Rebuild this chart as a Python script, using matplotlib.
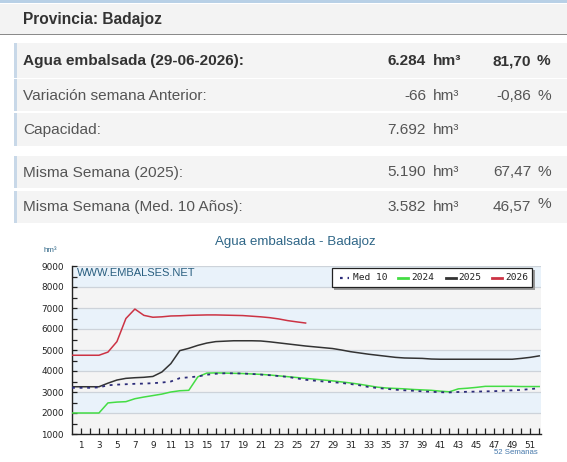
import matplotlib
matplotlib.use("Agg")
import matplotlib.pyplot as plt
from matplotlib.patches import Rectangle

W, H = 567, 462

# ---------------- data ----------------
weeks = list(range(0, 53))
weeks_2026 = list(range(0, 27))

med10 = [3200, 3200, 3200, 3220, 3320, 3350, 3370, 3390, 3400, 3420, 3450, 3500, 3660,
         3700, 3740, 3820, 3870, 3890, 3890, 3880, 3860, 3830, 3800, 3760, 3720, 3650,
         3582, 3540, 3500, 3470, 3430, 3380, 3320, 3240, 3190, 3150, 3110, 3080, 3060,
         3030, 3010, 2990, 2980, 3000, 3010, 3020, 3030, 3040, 3060, 3080, 3100, 3140, 3180]
y2024 = [2000, 2000, 2000, 2000, 2480, 2520, 2540, 2680, 2760, 2830, 2900, 3000, 3060,
         3080, 3720, 3900, 3910, 3900, 3890, 3880, 3860, 3840, 3810, 3770, 3730, 3690,
         3650, 3610, 3570, 3530, 3480, 3430, 3370, 3300, 3230, 3190, 3170, 3150, 3120,
         3100, 3080, 3040, 3010, 3150, 3180, 3220, 3270, 3270, 3270, 3270, 3260, 3260, 3260]
y2025 = [3250, 3250, 3250, 3250, 3420, 3570, 3650, 3680, 3700, 3740, 3950, 4350, 4970,
         5080, 5220, 5330, 5400, 5420, 5440, 5440, 5440, 5430, 5390, 5340, 5290, 5240,
         5190, 5150, 5110, 5070, 5000, 4920, 4860, 4800, 4750, 4700, 4650, 4620, 4610,
         4600, 4570, 4560, 4560, 4560, 4560, 4560, 4560, 4560, 4560, 4560, 4600, 4650, 4720]
y2026 = [4750, 4750, 4750, 4750, 4900, 5400, 6500, 6950, 6650, 6560, 6580, 6620, 6630,
         6650, 6660, 6670, 6670, 6660, 6650, 6640, 6610, 6580, 6540, 6480, 6400, 6340, 6284]

series_names = ["Med 10", "2024", "2025", "2026"]
yticks = [1000, 2000, 3000, 4000, 5000, 6000, 7000, 8000, 9000]
xtick_labels = [str(w) for w in range(1, 52, 2)]

row_labels = ["Agua embalsada (29-06-2026):", "Variación semana Anterior:", "Capacidad:",
              "Misma Semana (2025):", "Misma Semana (Med. 10 Años):"]
row_values = ["6.284", "-66", "7.692", "5.190", "3.582"]
row_pcts = ["81,70", "-0,86", "", "67,47", "46,57"]

# ---------------- figure ----------------
fig = plt.figure(figsize=(W / 100, H / 100), dpi=100)
fig.patch.set_facecolor("white")


def fx(x):
    return x / W


def fy(y):
    return 1 - y / H


def rect(x0, y0, x1, y1, color, z=0):
    fig.patches.append(Rectangle((fx(x0), fy(y1)), (x1 - x0) / W, (y1 - y0) / H,
                                 transform=fig.transFigure, facecolor=color,
                                 edgecolor="none", zorder=z))


# top border / header
rect(0, 0, W, 3, "#b8d0e6")
rect(0, 4, W, 34, "#f3f3f3")
rect(0, 34, W, 35.2, "#8a8a8a")
fig.text(fx(23), fy(19.5), "Provincia: Badajoz", fontsize=11.2, fontweight="bold",
         color="#333333", family="Liberation Sans", va="center", ha="left")

FS = 11.1
row_y = [(43, 78), (79, 111), (113, 146), (156, 188), (191, 223)]
for i, (a, b) in enumerate(row_y):
    rect(14, a, W, b, "#f4f4f4")
    rect(14, a, 17, b, "#c8d8e8")
    cy = (a + b) / 2 + 0.5
    bold = (i == 0)
    wt = "bold" if bold else "normal"
    col = "#333333" if bold else "#555555"
    fig.text(fx(23), fy(cy), row_labels[i], fontsize=FS, fontweight=wt, color=col,
             family="Liberation Sans", va="center", ha="left")
    fig.text(fx(426), fy(cy), row_values[i], fontsize=FS, fontweight=wt, color=col,
             family="Liberation Sans", va="center", ha="right")
    fig.text(fx(433), fy(cy), "hm³", fontsize=FS, fontweight=wt, color=col,
             family="Liberation Sans", va="center", ha="left")
    if row_pcts[i]:
        fig.text(fx(531), fy(cy), row_pcts[i], fontsize=FS, fontweight=wt, color=col,
                 family="Liberation Sans", va="center", ha="right")
        py = cy - (4 if i == 4 else 0)
        fig.text(fx(537), fy(py), "%", fontsize=FS, fontweight=wt, color=col,
                 family="Liberation Sans", va="center", ha="left")

# ---------------- chart ----------------
ax_l, ax_r, ax_t, ax_b = 72, 541, 266, 434
ax = fig.add_axes([fx(ax_l), fy(ax_b), (ax_r - ax_l) / W, (ax_b - ax_t) / H])
ax.set_xlim(0, 52.2)
ax.set_ylim(1000, 9000)
ax.set_facecolor("white")

for k, lo in enumerate(range(1000, 9000, 1000)):
    c = "#f4f4f4" if k % 2 == 0 else "#e9f2fa"
    ax.axhspan(lo, lo + 1000, color=c, zorder=0, lw=0)
for v in yticks[1:]:
    ax.axhline(v, color="#cdd3da", lw=0.9, zorder=1)

col_med, col_24, col_25, col_26 = "#2d2d7a", "#44dd44", "#333333", "#cc3344"
ax.plot(weeks, y2024, color=col_24, lw=1.1, zorder=3)
ax.plot(weeks, med10, color=col_med, lw=1.3, ls=(0, (1.6, 2.6)), zorder=4)
ax.plot(weeks, y2025, color=col_25, lw=1.1, zorder=3)
ax.plot(weeks_2026, y2026, color=col_26, lw=1.1, zorder=3)

for s in ["top", "right"]:
    ax.spines[s].set_visible(False)
ax.spines["left"].set_color("#222222")
ax.spines["bottom"].set_color("#222222")
ax.spines["left"].set_linewidth(1.0)
ax.spines["bottom"].set_linewidth(1.0)

ax.set_yticks(yticks)
ax.set_yticklabels([str(v) for v in yticks], fontsize=6.4, family="DejaVu Sans",
                   color="#222222")
ax.set_yticks(range(1500, 9000, 1000), minor=True)
ax.tick_params(axis="y", which="both", direction="in", length=3.5, width=0.9,
               color="#222222", pad=6)
ax.set_xticks(range(1, 52, 2))
ax.set_xticklabels(xtick_labels, fontsize=6.4, family="DejaVu Sans", color="#222222")
ax.set_xticks(range(2, 53, 2), minor=True)
ax.tick_params(axis="x", which="both", direction="in", length=4, width=0.9,
               color="#222222", pad=5)

# chart texts
fig.text(fx(295.5), fy(241.5), "Agua embalsada - Badajoz", fontsize=9.6, color="#2f6687",
         family="Liberation Sans", ha="center", va="center")
fig.text(fx(44), fy(250), "hm³", fontsize=5.8, color="#2f6687",
         family="Liberation Sans", ha="left", va="center")
fig.text(fx(77), fy(272.5), "WWW.EMBALSES.NET", fontsize=8, color="#2a5f80",
         family="Liberation Sans", ha="left", va="center")
fig.text(fx(538), fy(453), "52 Semanas", fontsize=5.6, color="#4477aa",
         family="Liberation Sans", ha="right", va="center")

# legend
rect(334, 270, 534.5, 289.5, "#9a9a9a", z=5)
fig.patches.append(Rectangle((fx(332), fy(287.3)), 200 / W, 19.6 / H,
                             transform=fig.transFigure, facecolor="white",
                             edgecolor="#222222", lw=0.9, zorder=6))
leg_y = fy(277.7)
legend_items = [(340, 349, 353, col_med, True), (398, 408, 411, col_24, False),
                (446, 456, 458, col_25, False), (492, 502, 505, col_26, False)]
for (x0, x1, tx, col, dotted), name in zip(legend_items, series_names):
    fig.add_artist(plt.Line2D([fx(x0), fx(x1)], [leg_y, leg_y], transform=fig.transFigure,
                              color=col, lw=2.0 if not dotted else 1.6,
                              ls=(0, (1.2, 2.2)) if dotted else "-", zorder=7))
    fig.text(fx(tx), leg_y, name, fontsize=6.8, family="DejaVu Sans Mono", color="#222222",
             ha="left", va="center", zorder=7)

fig.savefig("out.png", dpi=100)
